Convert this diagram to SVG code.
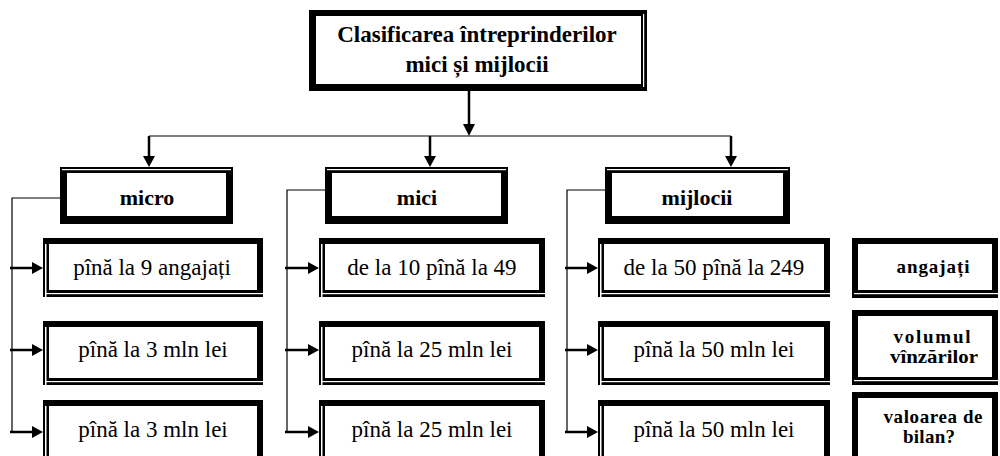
<svg xmlns="http://www.w3.org/2000/svg" width="1000" height="456" viewBox="0 0 1000 456">
  <style>
    .frame { fill: #000; }
    .inside { fill: #fff; }
    .gap { fill: #fff; }
    text { font-family: "Liberation Serif", "Times New Roman", Times, "DejaVu Serif", serif; fill: #000; text-anchor: middle; }
    .title { font-weight: bold; font-size: 23px; }
    .cat { font-weight: bold; font-size: 22px; }
    .item { font-size: 23px; }
    .crit { font-weight: bold; font-size: 19px; }
    .wire { stroke: #000; stroke-width: 1.2; fill: none; }
    .shaft { stroke: #000; stroke-width: 2.5; fill: none; }
    .head { fill: #000; }
  </style>
  <rect width="1000" height="456" fill="#fff"/>

  <!-- root -->
  <g id="root">
    <rect class="frame" x="309" y="10" width="338" height="81"/>
    <rect class="inside" x="316" y="16" width="325" height="68"/>
    <rect class="gap" x="643" y="14" width="1.2" height="73"/>
    <text class="title" x="477" y="42">Clasificarea întreprinderilor</text>
    <text class="title" x="477" y="72">mici și mijlocii</text>
  </g>

  <!-- category boxes -->
  <g id="cat-micro">
    <rect class="frame" x="60" y="167" width="173" height="57"/>
    <rect class="gap" x="62" y="169" width="169" height="1.2"/>
    <rect class="inside" x="67" y="173" width="159" height="43"/>
    <text class="cat" x="147" y="205">micro</text>
  </g>
  <g id="cat-mici">
    <rect class="frame" x="325" y="167" width="183" height="57"/>
    <rect class="gap" x="327" y="169" width="179" height="1.2"/>
    <rect class="inside" x="332" y="173" width="169" height="43"/>
    <text class="cat" x="417" y="205">mici</text>
  </g>
  <g id="cat-mijlocii">
    <rect class="frame" x="605" y="167" width="185" height="57"/>
    <rect class="gap" x="607" y="169" width="181" height="1.2"/>
    <rect class="inside" x="612" y="173" width="171" height="43"/>
    <text class="cat" x="697" y="205">mijlocii</text>
  </g>

  <!-- micro items -->
  <g id="micro-1">
    <rect class="frame" x="43" y="238" width="220" height="59"/>
    <rect class="gap" x="45" y="244" width="1.5" height="53"/>
    <rect class="inside" x="49" y="244" width="208" height="46"/>
    <rect class="gap" x="45" y="293" width="218" height="1.2"/>
    <text class="item" x="152" y="275">pînă la 9 angajați</text>
  </g>
  <g id="micro-2">
    <rect class="frame" x="43" y="321" width="220" height="64"/>
    <rect class="gap" x="45" y="327" width="1.5" height="58"/>
    <rect class="inside" x="49" y="327" width="208" height="51"/>
    <rect class="gap" x="45" y="381" width="218" height="1.2"/>
    <text class="item" x="153" y="357">pînă la 3 mln lei</text>
  </g>
  <g id="micro-3">
    <rect class="frame" x="43" y="400" width="220" height="64"/>
    <rect class="gap" x="45" y="406" width="1.5" height="58"/>
    <rect class="inside" x="49" y="406" width="208" height="51"/>
    <text class="item" x="153" y="437">pînă la 3 mln lei</text>
  </g>

  <!-- mici items -->
  <g id="mici-1">
    <rect class="frame" x="319" y="238" width="226" height="59"/>
    <rect class="gap" x="321" y="244" width="1.5" height="53"/>
    <rect class="inside" x="325" y="244" width="214" height="46"/>
    <rect class="gap" x="321" y="293" width="224" height="1.2"/>
    <text class="item" x="432" y="275">de la 10 pînă la 49</text>
  </g>
  <g id="mici-2">
    <rect class="frame" x="319" y="321" width="226" height="64"/>
    <rect class="gap" x="321" y="327" width="1.5" height="58"/>
    <rect class="inside" x="325" y="327" width="214" height="51"/>
    <rect class="gap" x="321" y="381" width="224" height="1.2"/>
    <text class="item" x="432" y="357">pînă la 25 mln lei</text>
  </g>
  <g id="mici-3">
    <rect class="frame" x="319" y="400" width="226" height="64"/>
    <rect class="gap" x="321" y="406" width="1.5" height="58"/>
    <rect class="inside" x="325" y="406" width="214" height="51"/>
    <text class="item" x="432" y="437">pînă la 25 mln lei</text>
  </g>

  <!-- mijlocii items -->
  <g id="mijlocii-1">
    <rect class="frame" x="598" y="238" width="232" height="59"/>
    <rect class="gap" x="600" y="244" width="1.5" height="53"/>
    <rect class="inside" x="604" y="244" width="220" height="46"/>
    <rect class="gap" x="600" y="293" width="230" height="1.2"/>
    <text class="item" x="714" y="275">de la 50 pînă la 249</text>
  </g>
  <g id="mijlocii-2">
    <rect class="frame" x="598" y="321" width="232" height="64"/>
    <rect class="gap" x="600" y="327" width="1.5" height="58"/>
    <rect class="inside" x="604" y="327" width="220" height="51"/>
    <rect class="gap" x="600" y="381" width="230" height="1.2"/>
    <text class="item" x="714" y="357">pînă la 50 mln lei</text>
  </g>
  <g id="mijlocii-3">
    <rect class="frame" x="598" y="400" width="232" height="64"/>
    <rect class="gap" x="600" y="406" width="1.5" height="58"/>
    <rect class="inside" x="604" y="406" width="220" height="51"/>
    <text class="item" x="714" y="437">pînă la 50 mln lei</text>
  </g>

  <!-- criteria column -->
  <g id="crit-angajati">
    <rect class="frame" x="852" y="238" width="146" height="60"/>
    <rect class="inside" x="858" y="244" width="134" height="46"/>
    <rect class="gap" x="854" y="293" width="144" height="1.2"/>
    <text class="crit" x="933" y="273" textLength="73" lengthAdjust="spacing">angajați</text>
  </g>
  <g id="crit-volum">
    <rect class="frame" x="852" y="310" width="146" height="75"/>
    <rect class="inside" x="858" y="316" width="134" height="61"/>
    <rect class="gap" x="854" y="380" width="144" height="1.2"/>
    <text class="crit" x="932" y="343" textLength="77" lengthAdjust="spacing">volumul</text>
    <text class="crit" x="934" y="363" textLength="88" lengthAdjust="spacingAndGlyphs">vînzărilor</text>
  </g>
  <g id="crit-bilant">
    <rect class="frame" x="852" y="392" width="146" height="72"/>
    <rect class="inside" x="858" y="398" width="134" height="66"/>
    <text class="crit" x="933" y="423" textLength="99" lengthAdjust="spacing">valoarea de</text>
    <text class="crit" x="929" y="443" textLength="52" lengthAdjust="spacing">bilan?</text>
  </g>

  <!-- connectors -->
  <g id="connectors">
    <!-- root to the three categories -->
    <line class="shaft" x1="469" y1="91" x2="469" y2="125"/>
    <polygon class="head" points="463,124 475,124 469,136"/>
    <line class="wire" x1="149" y1="136" x2="731" y2="136"/>
    <line class="shaft" x1="149" y1="136" x2="149" y2="157"/>
    <polygon class="head" points="143,156 155,156 149,167"/>
    <line class="shaft" x1="430" y1="136" x2="430" y2="157"/>
    <polygon class="head" points="424,156 436,156 430,167"/>
    <line class="shaft" x1="731" y1="136" x2="731" y2="157"/>
    <polygon class="head" points="725,156 737,156 731,167"/>

    <!-- micro branch -->
    <polyline class="wire" points="60,198 12,198 12,432"/>
    <line class="shaft" x1="10" y1="268" x2="34" y2="268"/>
    <polygon class="head" points="32,262 32,274 43,268"/>
    <line class="shaft" x1="10" y1="350" x2="34" y2="350"/>
    <polygon class="head" points="32,344 32,356 43,350"/>
    <line class="shaft" x1="10" y1="432" x2="34" y2="432"/>
    <polygon class="head" points="32,426 32,438 43,432"/>

    <!-- mici branch -->
    <polyline class="wire" points="325,190 287,190 287,432"/>
    <line class="shaft" x1="285" y1="268" x2="310" y2="268"/>
    <polygon class="head" points="308,262 308,274 319,268"/>
    <line class="shaft" x1="285" y1="350" x2="310" y2="350"/>
    <polygon class="head" points="308,344 308,356 319,350"/>
    <line class="shaft" x1="285" y1="432" x2="310" y2="432"/>
    <polygon class="head" points="308,426 308,438 319,432"/>

    <!-- mijlocii branch -->
    <polyline class="wire" points="605,190 567,190 567,432"/>
    <line class="shaft" x1="565" y1="268" x2="589" y2="268"/>
    <polygon class="head" points="587,262 587,274 598,268"/>
    <line class="shaft" x1="565" y1="350" x2="589" y2="350"/>
    <polygon class="head" points="587,344 587,356 598,350"/>
    <line class="shaft" x1="565" y1="432" x2="589" y2="432"/>
    <polygon class="head" points="587,426 587,438 598,432"/>
  </g>
</svg>
